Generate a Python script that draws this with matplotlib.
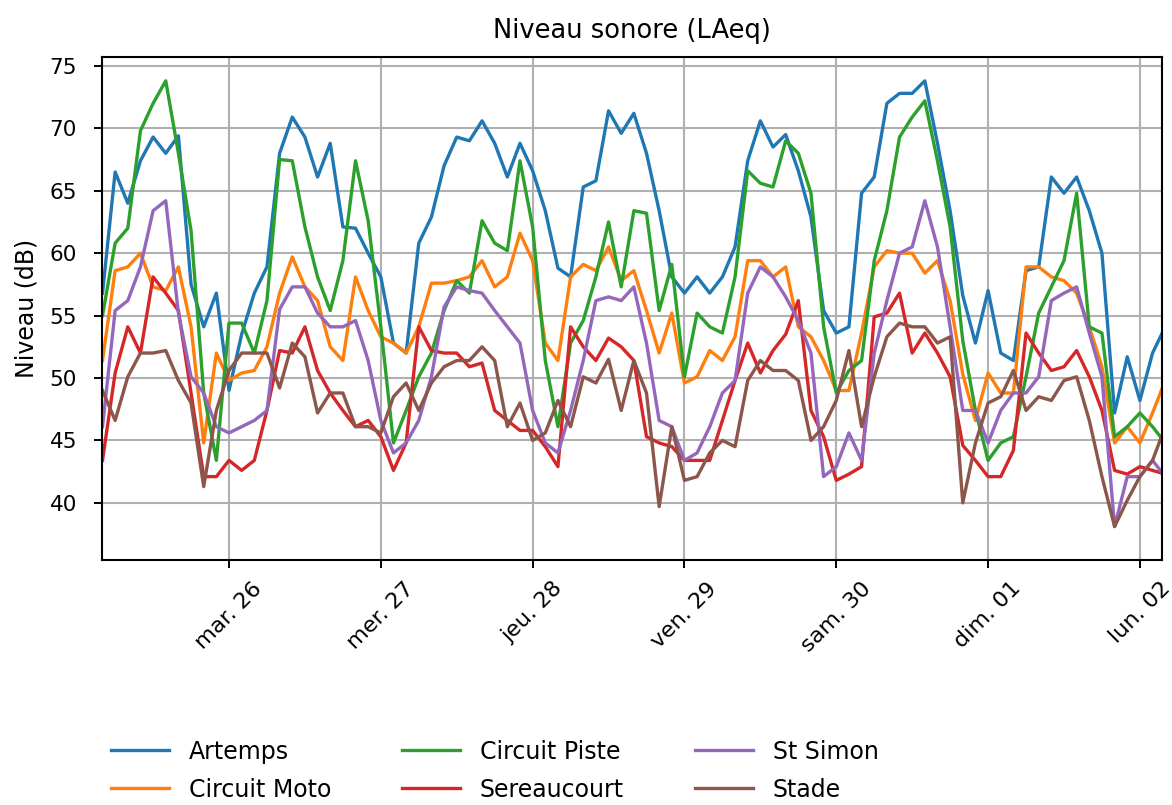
import matplotlib
matplotlib.use("Agg")
import matplotlib.pyplot as plt
import matplotlib.dates as mdates
from matplotlib.ticker import FuncFormatter
import numpy as np
import pandas as pd

# one reading every 2 hours, from 25 September 2023 04:00
times = pd.date_range("2023-09-25 04:00", periods=85, freq="2h")

artemps = [56.8, 66.5, 64, 67.4, 69.3, 68, 69.4, 57.5, 54.1, 56.8, 49, 53.5, 56.8, 58.9, 68,
           70.9, 69.3, 66.1, 68.8, 62.1, 62, 60, 58.1, 52.8, 52, 60.8, 62.9, 67,
           69.3, 69, 70.6, 68.8, 66.1, 68.8, 66.6, 63.4, 58.8, 58.1, 65.3, 65.8, 71.4,
           69.6, 71.2, 68, 63.4, 58.1, 56.8, 58.1, 56.8, 58.1, 60.5, 67.4, 70.6, 68.5, 69.5,
           66.6, 62.9, 55.4, 53.6, 54.1, 64.8, 66.1, 72, 72.8, 72.8, 73.8, 68.8, 63.4, 56.6,
           52.8, 57, 52, 51.4, 58.6, 58.9, 66.1, 64.8, 66.1, 63.4, 60, 47.2, 51.7, 48.2, 52, 54.1]

circuit_moto = [51.4, 58.6, 58.9, 60, 57.3, 57, 58.9, 54.1, 44.8, 52, 49.8, 50.4, 50.6, 52.5, 56.8,
                59.7, 57.3, 56.2, 52.5, 51.4, 58.1, 55.4, 53.3, 52.8, 52, 54.1, 57.6, 57.6,
                57.8, 58.1, 59.4, 57.3, 58.1, 61.6, 59.4, 52.8, 51.4, 58.1, 59.1, 58.6, 60.5,
                57.8, 58.6, 55.4, 52, 55.2, 49.6, 50.1, 52.2, 51.4, 53.3, 59.4, 59.4, 58.1, 58.9,
                54.1, 53.3, 51.4, 49, 49, 53.6, 58.9, 60.2, 60, 60, 58.4, 59.4, 56.2, 50.3,
                46.6, 50.4, 48.8, 48.8, 58.9, 58.9, 58.1, 57.8, 56.8, 54.1, 50.9, 44.8, 46.1, 44.8, 47.2, 49.8]

circuit_piste = [55, 60.8, 62, 69.8, 72, 73.8, 68, 61.8, 48.8, 43.4, 54.4, 54.4, 52, 56.2, 67.5,
                 67.4, 62.1, 58.1, 55.4, 59.4, 67.4, 62.6, 54.1, 44.8, 47.4, 50.1, 52, 55.4,
                 57.8, 56.8, 62.6, 60.8, 60.2, 67.4, 62.1, 51.4, 46.1, 52.8, 54.6, 58.1, 62.5,
                 57.3, 63.4, 63.2, 55.4, 59.1, 50.1, 55.2, 54.1, 53.6, 58.1, 66.6, 65.6, 65.3, 69,
                 68, 64.8, 54.1, 48.8, 50.6, 51.4, 59.4, 63.4, 69.3, 70.9, 72.2, 67.4, 62.1, 53,
                 47.4, 43.4, 44.8, 45.3, 50.1, 55.2, 57.3, 59.4, 64.8, 54.1, 53.6, 45.3, 46.1, 47.2, 46.1, 44.8]

sereaucourt = [43.4, 50.4, 54.1, 52, 58.1, 56.8, 55.4, 48.8, 42.1, 42.1, 43.4, 42.6, 43.4, 47.4, 52.2,
               52, 54.1, 50.6, 48.8, 47.4, 46.1, 46.6, 45.3, 42.6, 44.8, 54.1, 52.2, 52,
               52, 50.9, 51.2, 47.4, 46.6, 45.8, 45.8, 44.5, 42.9, 54.1, 52.5, 51.4, 53.2,
               52.5, 51.4, 45.3, 44.8, 44.5, 43.4, 43.4, 43.4, 46.6, 49.8, 52.8, 50.4, 52.2, 53.5,
               56.2, 47.4, 45.3, 41.8, 42.3, 42.9, 54.9, 55.2, 56.8, 52, 53.6, 52, 50.1, 44.6,
               43.4, 42.1, 42.1, 44.2, 53.6, 52, 50.6, 50.9, 52.2, 50.1, 47.4, 42.6, 42.3, 42.9, 42.6, 42.3]

st_simon = [46.1, 55.4, 56.2, 58.9, 63.4, 64.2, 55.2, 50.1, 48.8, 46.1, 45.6, 46.1, 46.6, 47.4, 55.5,
            57.3, 57.3, 55.2, 54.1, 54.1, 54.6, 51.4, 46.6, 44, 44.8, 46.6, 50.1, 55.7,
            57.3, 57, 56.8, 55.4, 54.1, 52.8, 47.4, 44.8, 44, 47.4, 51.4, 56.2, 56.5,
            56.2, 57.3, 52.8, 46.6, 46.1, 43.4, 44, 46.1, 48.8, 49.8, 56.8, 58.9, 58.1, 56.5,
            54.6, 52, 42.1, 42.9, 45.6, 43.4, 52, 56.2, 60, 60.5, 64.2, 60.5, 54.1, 47.4,
            47.4, 44.8, 47.4, 48.8, 48.8, 50.1, 56.2, 56.8, 57.3, 53.6, 50.1, 38.1, 42.1, 42.1, 43.4, 42.1]

stade = [49, 46.6, 50.1, 52, 52, 52.2, 49.8, 48, 41.3, 47.4, 50.6, 52, 52, 52, 49.2,
         52.8, 51.7, 47.2, 48.8, 48.8, 46.1, 46.1, 45.6, 48.5, 49.6, 47.4, 49.6, 50.9,
         51.4, 51.4, 52.5, 51.4, 46.1, 48, 45, 45.6, 48.2, 46.1, 50.1, 49.6, 51.5,
         47.4, 51.4, 48.8, 39.7, 46.1, 41.8, 42.1, 44, 45, 44.5, 49.8, 51.4, 50.6, 50.6,
         49.8, 45, 46.1, 48.2, 52.2, 46.1, 50.1, 53.3, 54.4, 54.1, 54.1, 52.8, 53.3, 40,
         44.8, 48, 48.5, 50.6, 47.4, 48.5, 48.2, 49.8, 50.1, 46.6, 42.1, 38.1, 40.2, 42.1, 43.4, 46.1]

names = ["Artemps", "Circuit Moto", "Circuit Piste", "Sereaucourt", "St Simon", "Stade"]
series = [artemps, circuit_moto, circuit_piste, sereaucourt, st_simon, stade]

jours = ["lun.", "mar.", "mer.", "jeu.", "ven.", "sam.", "dim."]

def fmt_date(x, pos):
    d = mdates.num2date(x)
    return "{} {:02d}".format(jours[d.weekday()], d.day)

fig = plt.figure(figsize=(11.72, 8.05), dpi=100)
ax = fig.add_axes([0.087, 0.304, 0.9045, 0.625])

for name, vals in zip(names, series):
    ax.plot(times, vals, label=name, lw=2.4)

ax.set_xlim(times[0] - pd.Timedelta(minutes=5), pd.Timestamp("2023-10-02 03:30"))
ax.set_ylim(35.4, 75.7)
ax.set_yticks(np.arange(40, 76, 5))
ax.xaxis.set_major_locator(mdates.DayLocator())
ax.xaxis.set_major_formatter(FuncFormatter(fmt_date))
ax.tick_params(axis="x", labelrotation=45, labelsize=16, length=6, width=1.4, pad=7)
ax.tick_params(axis="y", labelsize=15.5, length=6, width=1.4, pad=12)
ax.grid(True, color="#b0b0b0", lw=1.5)
for s in ax.spines.values():
    s.set_linewidth(1.5)

ax.set_title("Niveau sonore (LAeq)", fontsize=18.5, pad=14)
ax.set_ylabel("Niveau (dB)", fontsize=17, labelpad=8)

ax.legend(loc="upper left", bbox_to_anchor=(-0.0116, -0.314), ncol=3, frameon=False,
          fontsize=17, handlelength=2.45, handletextpad=0.85, columnspacing=3.0,
          labelspacing=0.6)

fig.savefig("out.png", dpi=100)
